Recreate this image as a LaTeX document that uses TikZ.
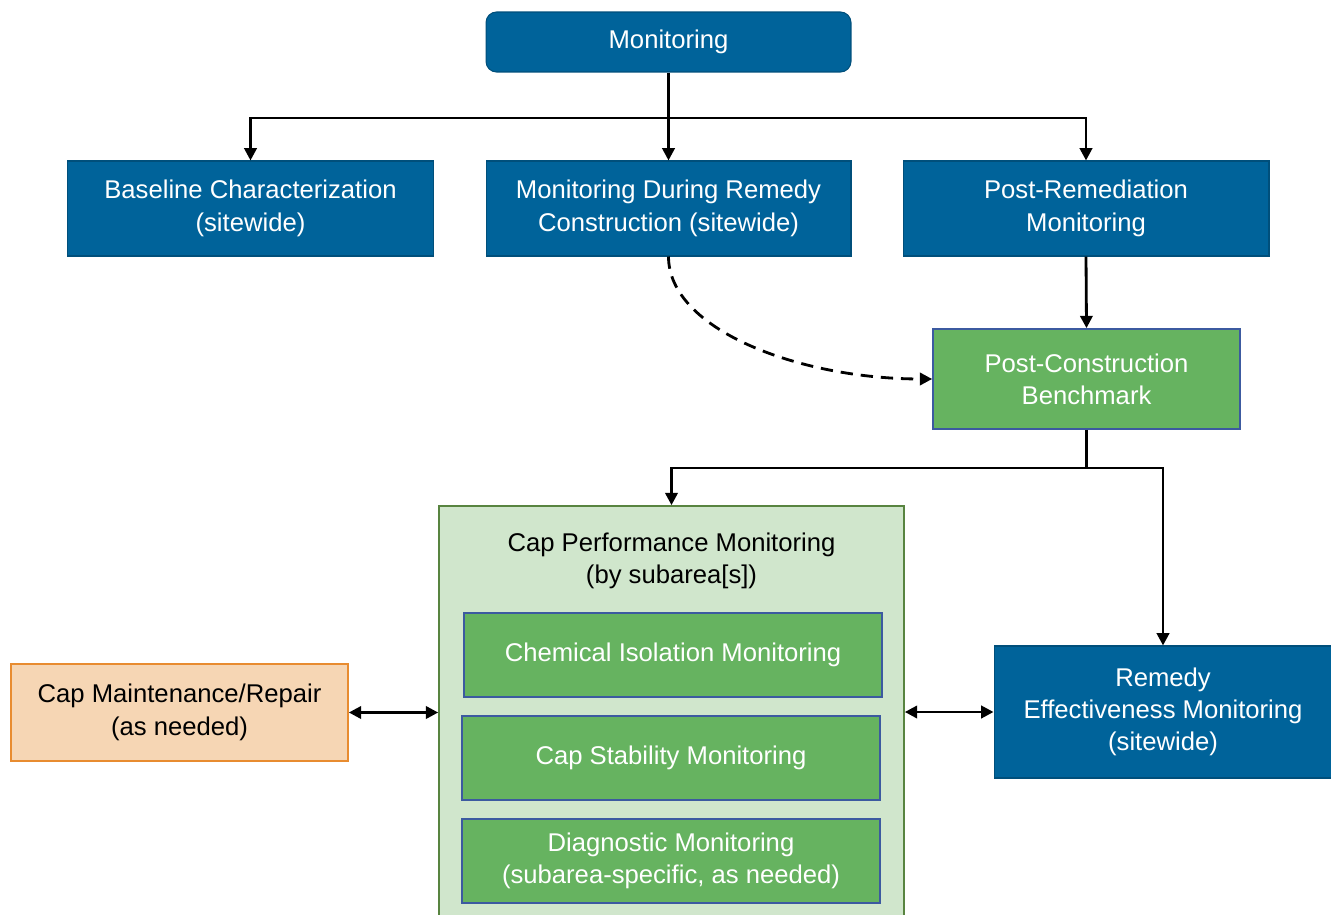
\documentclass[tikz,border=0pt]{standalone}
\usepackage{fontspec}
\setmainfont{Liberation Sans}
\usetikzlibrary{arrows.meta,calc}
\definecolor{monblue}{RGB}{0,99,154}
\definecolor{mongreen}{RGB}{102,179,96}
\definecolor{palegreen}{RGB}{208,230,204}
\definecolor{darkgreen}{RGB}{88,132,64}
\definecolor{edgeblue}{RGB}{60,90,160}
\definecolor{peach}{RGB}{246,214,180}
\definecolor{deeporange}{RGB}{232,140,48}

\begin{document}
\begin{tikzpicture}[x=0.02cm,y=-0.02cm,
  every node/.style={align=center,inner sep=0pt,font=\fontsize{14.6}{18.4}\selectfont},
  bluebox/.style={fill=monblue,draw=monblue!80!black,line width=0.6pt,text=white},
  greenbox/.style={fill=mongreen,draw=edgeblue,line width=1pt,text=white},
  link/.style={line width=1.6pt,-{Triangle[length=7pt,width=7pt]}},
  twoway/.style={line width=1.6pt,{Triangle[length=7pt,width=7pt]}-{Triangle[length=7pt,width=7pt]}}]
\clip (0,0) rectangle (1331,915);
\fill[white] (0,0) rectangle (1331,915);
% top level
\node[bluebox,rounded corners=6pt,minimum width=7.3cm,minimum height=1.2cm] (mon) at (668.5,42) {Monitoring};
\node[bluebox,minimum width=7.34cm,minimum height=1.9cm] (base) at (250.5,208.5) {Baseline Characterization\\(sitewide)};
\node[bluebox,minimum width=7.3cm,minimum height=1.9cm] (during) at (668.5,208.5) {Monitoring During Remedy\\Construction (sitewide)};
\node[bluebox,minimum width=7.32cm,minimum height=1.9cm] (post) at (1086,208.5) {Post-Remediation\\Monitoring};
\node[greenbox,minimum width=6.14cm,minimum height=2cm] (bench) at (1086.5,379) {Post-Construction\\Benchmark};
% cap performance block
\node[fill=palegreen,draw=darkgreen,line width=1pt,minimum width=9.3cm,minimum height=8.36cm] (cap) at (671.5,715) {};
\node (captitle) at (671.5,561) {Cap Performance Monitoring\\(by subarea[s])};
\node[greenbox,minimum width=8.36cm,minimum height=1.68cm] (chem) at (673,655) {Chemical Isolation Monitoring};
\node[greenbox,minimum width=8.36cm,minimum height=1.68cm] (stab) at (671,758) {Cap Stability Monitoring};
\node[greenbox,minimum width=8.36cm,minimum height=1.68cm] (diag) at (671,861) {Diagnostic Monitoring\\(subarea-specific, as needed)};
\node[fill=peach,draw=deeporange,line width=1pt,minimum width=6.74cm,minimum height=1.94cm] (maint) at (179.5,712.5) {Cap Maintenance/Repair\\(as needed)};
\node[bluebox,minimum width=6.76cm,minimum height=2.64cm] (remedy) at (1163,712) {Remedy\\Effectiveness Monitoring\\(sitewide)};
% connectors
\coordinate (split) at (668.5,118);
\coordinate (split2) at (1086.5,468);
\draw[link] (mon.south) -- (during.north);
\draw[link] (split) -| (base.north);
\draw[link] (split) -| (post.north);
\draw[link] (post.south) -- (bench.north);
\draw[link,dash pattern=on 7pt off 4.5pt] (during.south) .. controls (668.5,330) and (800,379) .. (bench.west);
\draw[line width=1.6pt] (bench.south) -- (split2);
\draw[link] (split2) -| (cap.north);
\draw[link] (split2) -| (remedy.north);
\draw[twoway] (maint.east) -- (maint.east -| cap.west);
\draw[twoway] (cap.east |- remedy.west) -- (remedy.west);
\end{tikzpicture}
\end{document}
